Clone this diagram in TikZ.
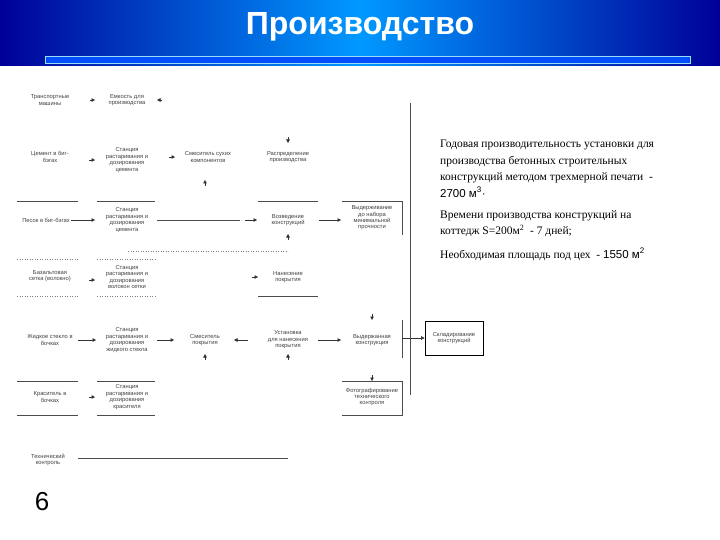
\documentclass[tikz,border=0pt]{standalone}
\usepackage{fontspec}
\setmainfont{Liberation Serif}
\newfontfamily\hsans{Liberation Sans}
\usetikzlibrary{arrows.meta}
\begin{document}
\begin{tikzpicture}[x=1pt,y=-1pt,
  lbl/.style={font=\hsans\fontsize{5.8}{6.4}\selectfont,align=center,text=black!75,inner sep=1pt},
  tip/.style={-{Triangle[length=3.5pt,width=3.5pt]},black!80,line width=0.5pt},
  ln/.style={black!70,line width=0.5pt},
  dl/.style={black!50,line width=0.5pt,dotted}]
\useasboundingbox (0,0) rectangle (720,540);
\fill[white] (0,0) rectangle (720,540);
% header
\shade[left color=blue!60!black,right color=blue!60!black,middle color=cyan!60!blue] (0,0) rectangle (720,66);
\fill[blue!70!cyan] (45,56) rectangle (690,63);
\draw[cyan!40,line width=0.4pt] (45,56) rectangle (690,63);
\node[font=\hsans\bfseries\fontsize{32}{32}\selectfont,text=white] (title) at (360,27) {Производство};
% row1
\node[lbl] (a1) at (50,100) {Транспортные\\машины};
\node[lbl] (b1) at (127,100) {Емкость для\\производства};
\coordinate (a1t) at (95,100); \draw[tip] (90,100)--(a1t);
\coordinate (b1t) at (157,100); \draw[tip] (162,100)--(b1t);
% row2
\node[lbl] (a2) at (50,157) {Цемент в биг-\\бэгах};
\node[lbl] (b2) at (127,160) {Станция\\растаривания и\\дозирования\\цемента};
\node[lbl] (c2) at (208,157) {Смеситель сухих\\компонентов};
\node[lbl] (d2) at (288,157) {Распределение\\производства};
\draw[tip] (89,160)--(95,160);
\draw[tip] (169,157)--(175,157);
\draw[tip] (205,186)--(205,180);
\draw[tip] (288,137)--(288,143);
% row3
\foreach \xa/\xb in {17/78,97/155,258/318} {\draw[ln] (\xa,201)--(\xb,201);}
\node[lbl] (a3) at (46,220) {Песок в биг-бэгах};
\node[lbl] (b3) at (127,220) {Станция\\растаривания и\\дозирования\\цемента};
\node[lbl] (d3) at (288,220) {Возведение\\конструкций};
\node[lbl] (e3) at (372,218) {Выдерживание\\до набора\\минимальной\\прочности};
\draw[ln] (342,201)--(402,201)--(402,235);
\draw[tip] (a3.east)--(95,220);
\draw[ln] (157,220)--(240,220);
\draw[tip] (245,220)--(257,220);
\draw[tip] (319,220)--(341,220);
\draw[tip] (288,240)--(288,234);
\draw[dl] (128,251)--(288,251);
% row4
\foreach \xa/\xb in {17/78,97/155} {\draw[dl] (\xa,259)--(\xb,259); \draw[dl] (\xa,296)--(\xb,296);}
\node[lbl] (a4) at (50,276) {Базальтовая\\сетка (волокно)};
\node[lbl] (b4) at (127,277) {Станция\\растаривания и\\дозирования\\волокон сетки};
\node[lbl] (d4) at (288,277) {Нанесение\\покрытия};
\draw[tip] (89,280)--(95,280);
\draw[tip] (252,277)--(258,277);
\draw[ln] (258,296)--(318,296);
% row5
\node[lbl] (a5) at (50,340) {Жидкое стекло в\\бочках};
\node[lbl] (b5) at (127,340) {Станция\\растаривания и\\дозирования\\жидкого стекла};
\node[lbl] (c5) at (205,340) {Смеситель\\покрытия};
\node[lbl] (d5) at (288,340) {Установка\\для нанесения\\покрытия};
\node[lbl] (e5) at (372,340) {Выдержанная\\конструкция};
\node[draw,line width=0.7pt,minimum width=58pt,minimum height=34pt,lbl] (f5) at (454,338) {Складирование\\конструкций};
\draw[tip] (78,340)--(96,340);
\draw[tip] (157,340)--(174,340);
\draw[tip] (248,340)--(234,340);
\draw[tip] (318,340)--(341,340);
\draw[tip] (205,360)--(205,354);
\draw[tip] (288,360)--(288,354);
\draw[tip] (372,314)--(372,320);
\draw[ln] (402,320)--(402,358);
\draw[tip] (402,338)--(f5.west);
% row6
\foreach \xa/\xb in {17/78,97/155} {\draw[ln] (\xa,381)--(\xb,381); \draw[ln] (\xa,415)--(\xb,415);}
\node[lbl] (a6) at (50,397) {Краситель в\\бочках};
\node[lbl] (b6) at (127,397) {Станция\\растаривания и\\дозирования\\красителя};
\node[lbl] (e6) at (372,397) {Фотографирование\\технического\\контроля};
\draw[ln] (342,381)--(402,381)--(402,415)--(342,415);
\draw[tip] (89,397)--(95,397);
\draw[tip] (372,375)--(372,381);
% row7
\node[lbl] (a7) at (48,460) {Технический\\контроль};
\draw[ln,line width=0.6pt] (78,458)--(288,458);
% vertical line
\draw[ln,line width=0.6pt] (410,103)--(410,395);
% page number
\node[font=\hsans\fontsize{26}{26}\selectfont] (num) at (42,502) {6};
% right text
\node[anchor=north west,align=left,font=\fontsize{11.5}{16.5}\selectfont,inner sep=0pt] (txt) at (440,140) {Годовая производительность установки для\\производства бетонных строительных\\конструкций методом трехмерной печати \ -\\{\hsans 2700 м\textsuperscript{3}·}};
\node[anchor=north west,align=left,font=\fontsize{11.5}{16.5}\selectfont,inner sep=0pt] (txt2) at (440,210) {Времени производства конструкций на\\коттедж S=200м\textsuperscript{2} \ - 7 дней;};
\node[anchor=north west,align=left,font=\fontsize{11.5}{16.5}\selectfont,inner sep=0pt] (txt3) at (440,248) {Необходимая площадь под цех \ - {\hsans 1550 м\textsuperscript{2}}};
\end{tikzpicture}
\end{document}
